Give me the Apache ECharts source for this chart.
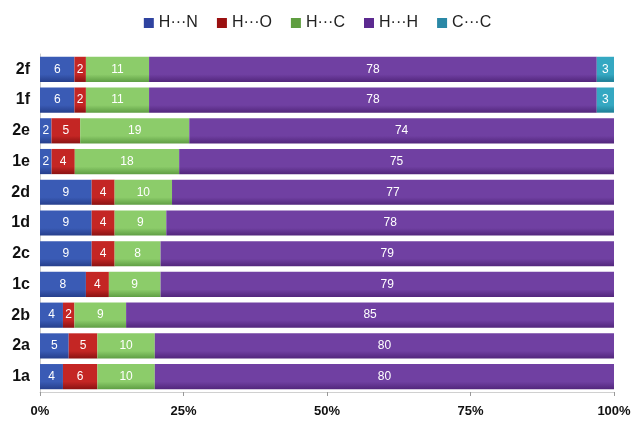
<!DOCTYPE html>
<html>
<head>
<meta charset="utf-8">
<script src="https://cdn.jsdelivr.net/npm/echarts@6/dist/echarts.min.js"></script>
<style>
  html, body { margin: 0; padding: 0; background: #fff; }
  #chart { width: 635px; height: 425px; }
</style>
</head>
<body>
<div id="chart"></div>
<script>
// Compounds, listed bottom to top on the category axis
const compounds = ['1a', '2a', '2b', '1c', '2c', '1d', '2d', '1e', '2e', '1f', '2f'];

// Contact contributions (%) per compound, same order as compounds
const hN = [4, 5, 4, 8, 9, 9, 9, 2, 2, 6, 6];
const hO = [6, 5, 2, 4, 4, 4, 4, 4, 5, 2, 2];
const hC = [10, 10, 9, 9, 8, 9, 10, 18, 19, 11, 11];
const hH = [80, 80, 85, 79, 79, 78, 77, 75, 74, 78, 78];
const cC = [0, 0, 0, 0, 0, 0, 0, 0, 0, 3, 3];

const seriesNames = ['H\u00B7\u00B7\u00B7N', 'H\u00B7\u00B7\u00B7O', 'H\u00B7\u00B7\u00B7C', 'H\u00B7\u00B7\u00B7H', 'C\u00B7\u00B7\u00B7C'];
const xTicks = ['0%', '25%', '50%', '75%', '100%'];

// [top, bottom] shades for each segment, plus the legend swatch colour
const colors = [
  ['#3a5bb5', '#263f8c', '#2f43a0'],
  ['#c42624', '#8a1212', '#9a1010'],
  ['#8ccc6a', '#5f9e44', '#5f9e40'],
  ['#7040a2', '#52267c', '#5c2a90'],
  ['#35a8c2', '#1d7d95', '#2a88a6']
];

const allSeries = [hN, hO, hC, hH, cC];

// 100% stacking: each bar is scaled to its row total, labels keep raw values
const totals = compounds.map((_, i) => allSeries.reduce((s, arr) => s + arr[i], 0));

function grad(c) {
  return new echarts.graphic.LinearGradient(0, 0, 0, 1, [
    { offset: 0, color: c[0] },
    { offset: 0.7, color: c[0] },
    { offset: 1, color: c[1] }
  ]);
}

const chart = echarts.init(document.getElementById('chart'));

chart.setOption({
  animation: false,
  legend: {
    top: 10,
    left: 'center',
    itemWidth: 10,
    itemHeight: 10,
    itemGap: 19,
    icon: 'rect',
    textStyle: { fontFamily: 'Liberation Sans, Arial, sans-serif', fontSize: 16, color: '#222' },
    data: seriesNames.map((n, k) => ({ name: n, itemStyle: { color: colors[k][2] } }))
  },
  grid: { left: 40, right: 21, top: 54, bottom: 33 },
  xAxis: {
    type: 'value',
    min: 0,
    max: 100,
    interval: 25,
    axisLine: { show: true, lineStyle: { color: '#d0d0d0' } },
    axisTick: { show: true, length: 4, lineStyle: { color: '#999' } },
    splitLine: { show: false },
    axisLabel: {
      margin: 13,
      fontFamily: 'Liberation Sans, Arial, sans-serif',
      fontSize: 13,
      fontWeight: 'bold',
      color: '#111',
      formatter: v => xTicks[Math.round(v / 25)]
    }
  },
  yAxis: {
    type: 'category',
    data: compounds,
    axisLine: { show: true, lineStyle: { color: '#ccc' } },
    axisTick: { show: false },
    axisLabel: {
      margin: 10,
      fontFamily: 'Liberation Sans, Arial, sans-serif',
      fontSize: 16,
      fontWeight: 'bold',
      color: '#111'
    }
  },
  series: allSeries.map((arr, k) => ({
    name: seriesNames[k],
    type: 'bar',
    stack: 'total',
    barCategoryGap: '18%',
    itemStyle: { color: grad(colors[k]) },
    label: {
      show: true,
      position: 'inside',
      color: '#fff',
      fontFamily: 'Liberation Sans, Arial, sans-serif',
      fontSize: 12,
      formatter: p => (arr[p.dataIndex] ? String(arr[p.dataIndex]) : '')
    },
    data: arr.map((v, i) => (v ? (v / totals[i]) * 100 : null))
  }))
});
</script>
</body>
</html>
